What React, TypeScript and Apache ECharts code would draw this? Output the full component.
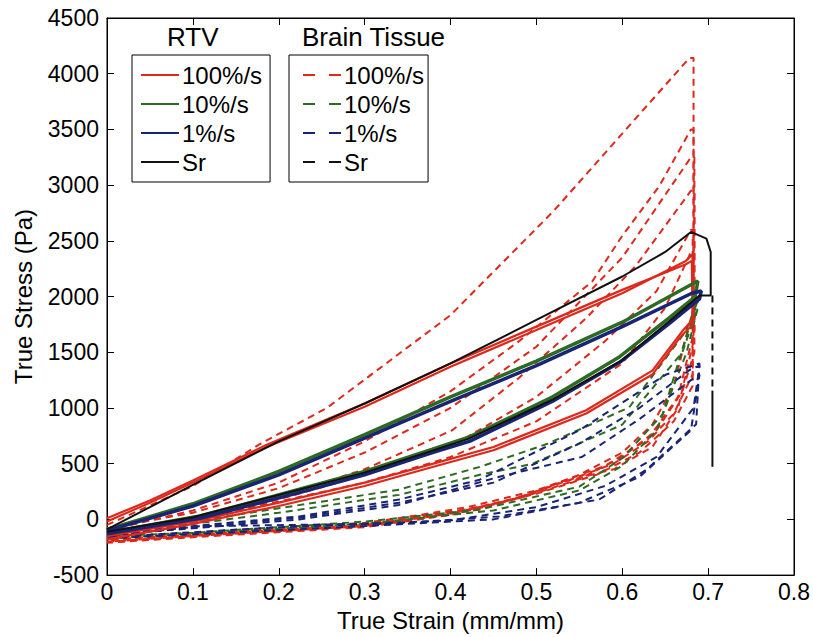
import React, { useEffect, useRef } from "react";
import * as echarts from "echarts";

// ---- Axis ticks ----
const xTicks = [0, 0.1, 0.2, 0.3, 0.4, 0.5, 0.6, 0.7, 0.8];
const yTicks = [-500, 0, 500, 1000, 1500, 2000, 2500, 3000, 3500, 4000, 4500];

// ---- RTV (solid) curves: [strain, stress] ----
const rtvRed1 = [[0,-20],[0.05,150],[0.1,330],[0.186,650],[0.3,1010],[0.4,1370],[0.5,1700],[0.6,2030],[0.674,2320],[0.682,2380],[0.683,1800],[0.67,1690],[0.635,1335],[0.558,979],[0.45,650],[0.379,498],[0.3,330],[0.2,150],[0.1,-20],[0,-150]];
const rtvRed2 = [[0,10],[0.05,170],[0.1,350],[0.186,670],[0.3,1040],[0.4,1400],[0.5,1730],[0.6,2060],[0.674,2290],[0.681,2320],[0.682,1750],[0.668,1640],[0.635,1300],[0.558,950],[0.45,620],[0.379,470],[0.3,300],[0.2,120],[0.1,-40],[0,-180]];
const rtvGreen = [[0,-90],[0.1,140],[0.2,430],[0.3,760],[0.4,1100],[0.5,1420],[0.6,1770],[0.681,2110],[0.688,2140],[0.685,2000],[0.655,1810],[0.597,1460],[0.519,1100],[0.422,740],[0.379,630],[0.3,430],[0.224,270],[0.108,30],[0,-120]];
const rtvNavy = [[0,-100],[0.1,120],[0.2,400],[0.3,730],[0.4,1060],[0.5,1380],[0.6,1730],[0.681,2030],[0.692,2050],[0.69,1980],[0.655,1760],[0.597,1410],[0.519,1060],[0.422,700],[0.379,600],[0.3,400],[0.224,240],[0.108,10],[0,-130]];
const rtvSrLoad = [[0,-90],[0.05,110],[0.1,310],[0.2,700],[0.3,1040],[0.4,1400],[0.5,1790],[0.6,2180],[0.65,2400],[0.68,2580],[0.698,2520],[0.703,2400],[0.703,2010],[0.69,2010],[0.655,1780],[0.6,1430],[0.52,1080],[0.42,720],[0.3,420],[0.22,260],[0.1,20],[0,-110]];
const rtvSrRelax = [[0.705,1156],[0.705,472]];

// ---- Brain tissue (dashed) curves ----
const brainRed1 = [[0,-50],[0.1,300],[0.178,676],[0.256,1000],[0.4,1833],[0.52,2767],[0.678,4140],[0.683,4140],[0.683,1900],[0.66,1200],[0.635,850],[0.6,600],[0.55,400],[0.49,220],[0.43,100],[0.3,-30],[0.2,-80],[0.1,-130],[0,-170]];
const brainRed2 = [[0,-100],[0.1,80],[0.2,330],[0.3,700],[0.4,1150],[0.48,1600],[0.565,2135],[0.6,2545],[0.643,2990],[0.68,3500],[0.683,3500],[0.683,1600],[0.665,1000],[0.635,650],[0.59,450],[0.523,320],[0.492,231],[0.434,89],[0.3,-60],[0.1,-150],[0,-200]];
const brainRed3 = [[0,-120],[0.1,20],[0.2,200],[0.3,450],[0.402,800],[0.48,1272],[0.558,1806],[0.616,2278],[0.68,2950],[0.684,2950],[0.684,1500],[0.67,1150],[0.64,800],[0.6,560],[0.55,360],[0.48,190],[0.4,60],[0.3,-50],[0.1,-140],[0,-180]];
const brainRed4 = [[0,-150],[0.1,-20],[0.224,231],[0.3,400],[0.419,738],[0.5,1100],[0.58,1600],[0.64,2050],[0.68,2600],[0.682,2600],[0.682,1300],[0.66,950],[0.63,700],[0.59,500],[0.53,330],[0.47,170],[0.4,40],[0.3,-70],[0.1,-160],[0,-210]];
const brainRed5 = [[0,-80],[0.1,60],[0.2,280],[0.3,600],[0.4,1000],[0.5,1550],[0.6,2350],[0.68,3250],[0.684,3250],[0.684,1700],[0.665,1100],[0.63,720],[0.58,480],[0.5,260],[0.42,110],[0.3,-40],[0.1,-140],[0,-190]];
const brainRed6 = [[0,-130],[0.1,0],[0.2,160],[0.3,330],[0.4,560],[0.5,880],[0.6,1400],[0.65,1900],[0.68,2400],[0.682,2400],[0.682,1200],[0.66,880],[0.62,600],[0.57,400],[0.5,230],[0.4,50],[0.3,-60],[0.1,-150],[0,-200]];
const brainGreen1 = [[0,-100],[0.1,-20],[0.2,100],[0.34,267],[0.434,471],[0.512,676],[0.608,1005],[0.674,1690],[0.69,2000],[0.681,1806],[0.647,943],[0.6,550],[0.55,294],[0.434,89],[0.3,-20],[0.1,-120],[0,-150]];
const brainGreen2 = [[0,-120],[0.1,-40],[0.2,60],[0.34,220],[0.434,400],[0.495,498],[0.6,850],[0.67,1500],[0.688,1900],[0.675,1500],[0.64,800],[0.6,480],[0.55,260],[0.45,80],[0.3,-40],[0,-170]];
const brainBlue1 = [[0,-120],[0.1,-60],[0.224,27],[0.34,178],[0.434,356],[0.55,800],[0.651,1300],[0.69,1400],[0.686,854],[0.628,445],[0.573,178],[0.457,27],[0.34,-36],[0.108,-62],[0,-150]];
const brainBlue2 = [[0,-140],[0.1,-80],[0.224,0],[0.34,130],[0.457,383],[0.553,560],[0.62,900],[0.68,1250],[0.69,1300],[0.68,800],[0.62,380],[0.55,150],[0.45,0],[0.3,-60],[0,-170]];
const brainBlue3 = [[0,-130],[0.1,-70],[0.224,15],[0.34,150],[0.45,330],[0.55,680],[0.62,1000],[0.68,1350],[0.69,1380],[0.683,1000],[0.64,560],[0.58,300],[0.5,110],[0.4,-10],[0.2,-70],[0,-160]];
const brainSr = [[0.705,2010],[0.705,1156]];

const RED = "#dd281c";
const GREEN = "#2d6b22";
const NAVY = "#1a2474";
const BLACK = "#111111";
const FONT = "Liberation Sans, Arial, Helvetica, sans-serif";

export default function App() {
  const ref = useRef<HTMLDivElement>(null);
  useEffect(() => {
    if (!ref.current) return;
    const chart = echarts.init(ref.current, null, { renderer: "svg" });
    const dash = [7, 5];
    const mk = (name: string, data: number[][], color: string, dashed: boolean, width = 2) => ({
      name,
      type: "line",
      data,
      symbol: "none",
      smooth: false,
      lineStyle: { color, width, type: dashed ? dash : "solid" },
      itemStyle: { color },
      silent: true,
    });
    const series = [
      mk("Brain 100%/s", brainRed1, RED, true),
      mk("Brain 100%/s", brainRed2, RED, true),
      mk("Brain 100%/s", brainRed3, RED, true),
      mk("Brain 100%/s", brainRed4, RED, true),
      mk("Brain 100%/s", brainRed5, RED, true),
      mk("Brain 100%/s", brainRed6, RED, true),
      mk("Brain 10%/s", brainGreen1, GREEN, true),
      mk("Brain 10%/s", brainGreen2, GREEN, true),
      mk("Brain 1%/s", brainBlue1, NAVY, true),
      mk("Brain 1%/s", brainBlue2, NAVY, true),
      mk("Brain 1%/s", brainBlue3, NAVY, true),
      mk("Brain Sr", brainSr, BLACK, true),
      mk("RTV 100%/s", rtvRed1, RED, false, 2.2),
      mk("RTV 100%/s", rtvRed2, RED, false, 2.2),
      mk("RTV 10%/s", rtvGreen, GREEN, false, 3.5),
      mk("RTV 1%/s", rtvNavy, NAVY, false, 3.5),
      mk("RTV Sr", rtvSrLoad, BLACK, false, 2),
      mk("RTV Sr", rtvSrRelax, BLACK, false, 2),
    ];
    const legendCommon = {
      orient: "vertical",
      itemWidth: 38,
      itemHeight: 14,
      itemGap: 5,
      borderColor: "#000",
      borderWidth: 1,
      selectedMode: false,
      itemStyle: { opacity: 0 },
      textStyle: { fontSize: 24, color: "#000", fontFamily: FONT, padding: [0, 0, 0, -2] },
      formatter: (n: string) => n.replace(/^(RTV|Brain) /, ""),
    };
    const option = {
      animation: false,
      backgroundColor: "#fff",
      grid: { left: 107, right: 18, top: 18, bottom: 57, show: true, borderColor: "#000", borderWidth: 1 },
      legend: [
        { ...legendCommon, left: 132, top: 55, padding: [8, 8, 8, 8], data: ["RTV 100%/s", "RTV 10%/s", "RTV 1%/s", "RTV Sr"] },
        { ...legendCommon, left: 289, top: 55, padding: [8, 4, 8, 13], lineStyle: { type: [12, 14] }, data: ["Brain 100%/s", "Brain 10%/s", "Brain 1%/s", "Brain Sr"] },
      ],
      graphic: [
        { type: "text", left: 167, top: 24, style: { text: "RTV", fontSize: 26, fill: "#000", fontFamily: FONT } },
        { type: "text", left: 302, top: 24, style: { text: "Brain Tissue", fontSize: 26, fill: "#000", fontFamily: FONT } },
      ],
      xAxis: [
        {
          type: "value", min: xTicks[0], max: xTicks[xTicks.length - 1], interval: 0.1,
          name: "True Strain (mm/mm)", nameLocation: "middle", nameGap: 30,
          nameTextStyle: { fontSize: 24, color: "#000", fontFamily: FONT },
          axisLine: { onZero: false, lineStyle: { color: "#000" } },
          axisTick: { inside: true, length: 7, lineStyle: { color: "#000" } },
          axisLabel: { fontSize: 23, color: "#000", fontFamily: FONT, margin: 5, formatter: (v: number) => String(Math.round(v * 10) / 10) },
          splitLine: { show: false },
        },
        {
          type: "value", position: "top", min: xTicks[0], max: xTicks[xTicks.length - 1], interval: 0.1,
          axisLine: { onZero: false, lineStyle: { color: "#000" } },
          axisTick: { inside: true, length: 7, lineStyle: { color: "#000" } },
          axisLabel: { show: false }, splitLine: { show: false },
        },
      ],
      yAxis: [
        {
          type: "value", min: yTicks[0], max: yTicks[yTicks.length - 1], interval: 500,
          name: "True Stress (Pa)", nameLocation: "middle", nameGap: 72,
          nameTextStyle: { fontSize: 24, color: "#000", fontFamily: FONT },
          axisLine: { onZero: false, lineStyle: { color: "#000" } },
          axisTick: { inside: true, length: 7, lineStyle: { color: "#000" } },
          axisLabel: { fontSize: 23, color: "#000", fontFamily: FONT, margin: 8, formatter: (v: number) => String(v) },
          splitLine: { show: false },
        },
        {
          type: "value", position: "right", min: yTicks[0], max: yTicks[yTicks.length - 1], interval: 500,
          axisLine: { onZero: false, lineStyle: { color: "#000" } },
          axisTick: { inside: true, length: 7, lineStyle: { color: "#000" } },
          axisLabel: { show: false }, splitLine: { show: false },
        },
      ],
      series,
    };
    chart.setOption(option as any);
    return () => chart.dispose();
  }, []);
  return <div ref={ref} style={{ width: 813, height: 637, position: "absolute", left: 0, top: 0 }} />;
}
